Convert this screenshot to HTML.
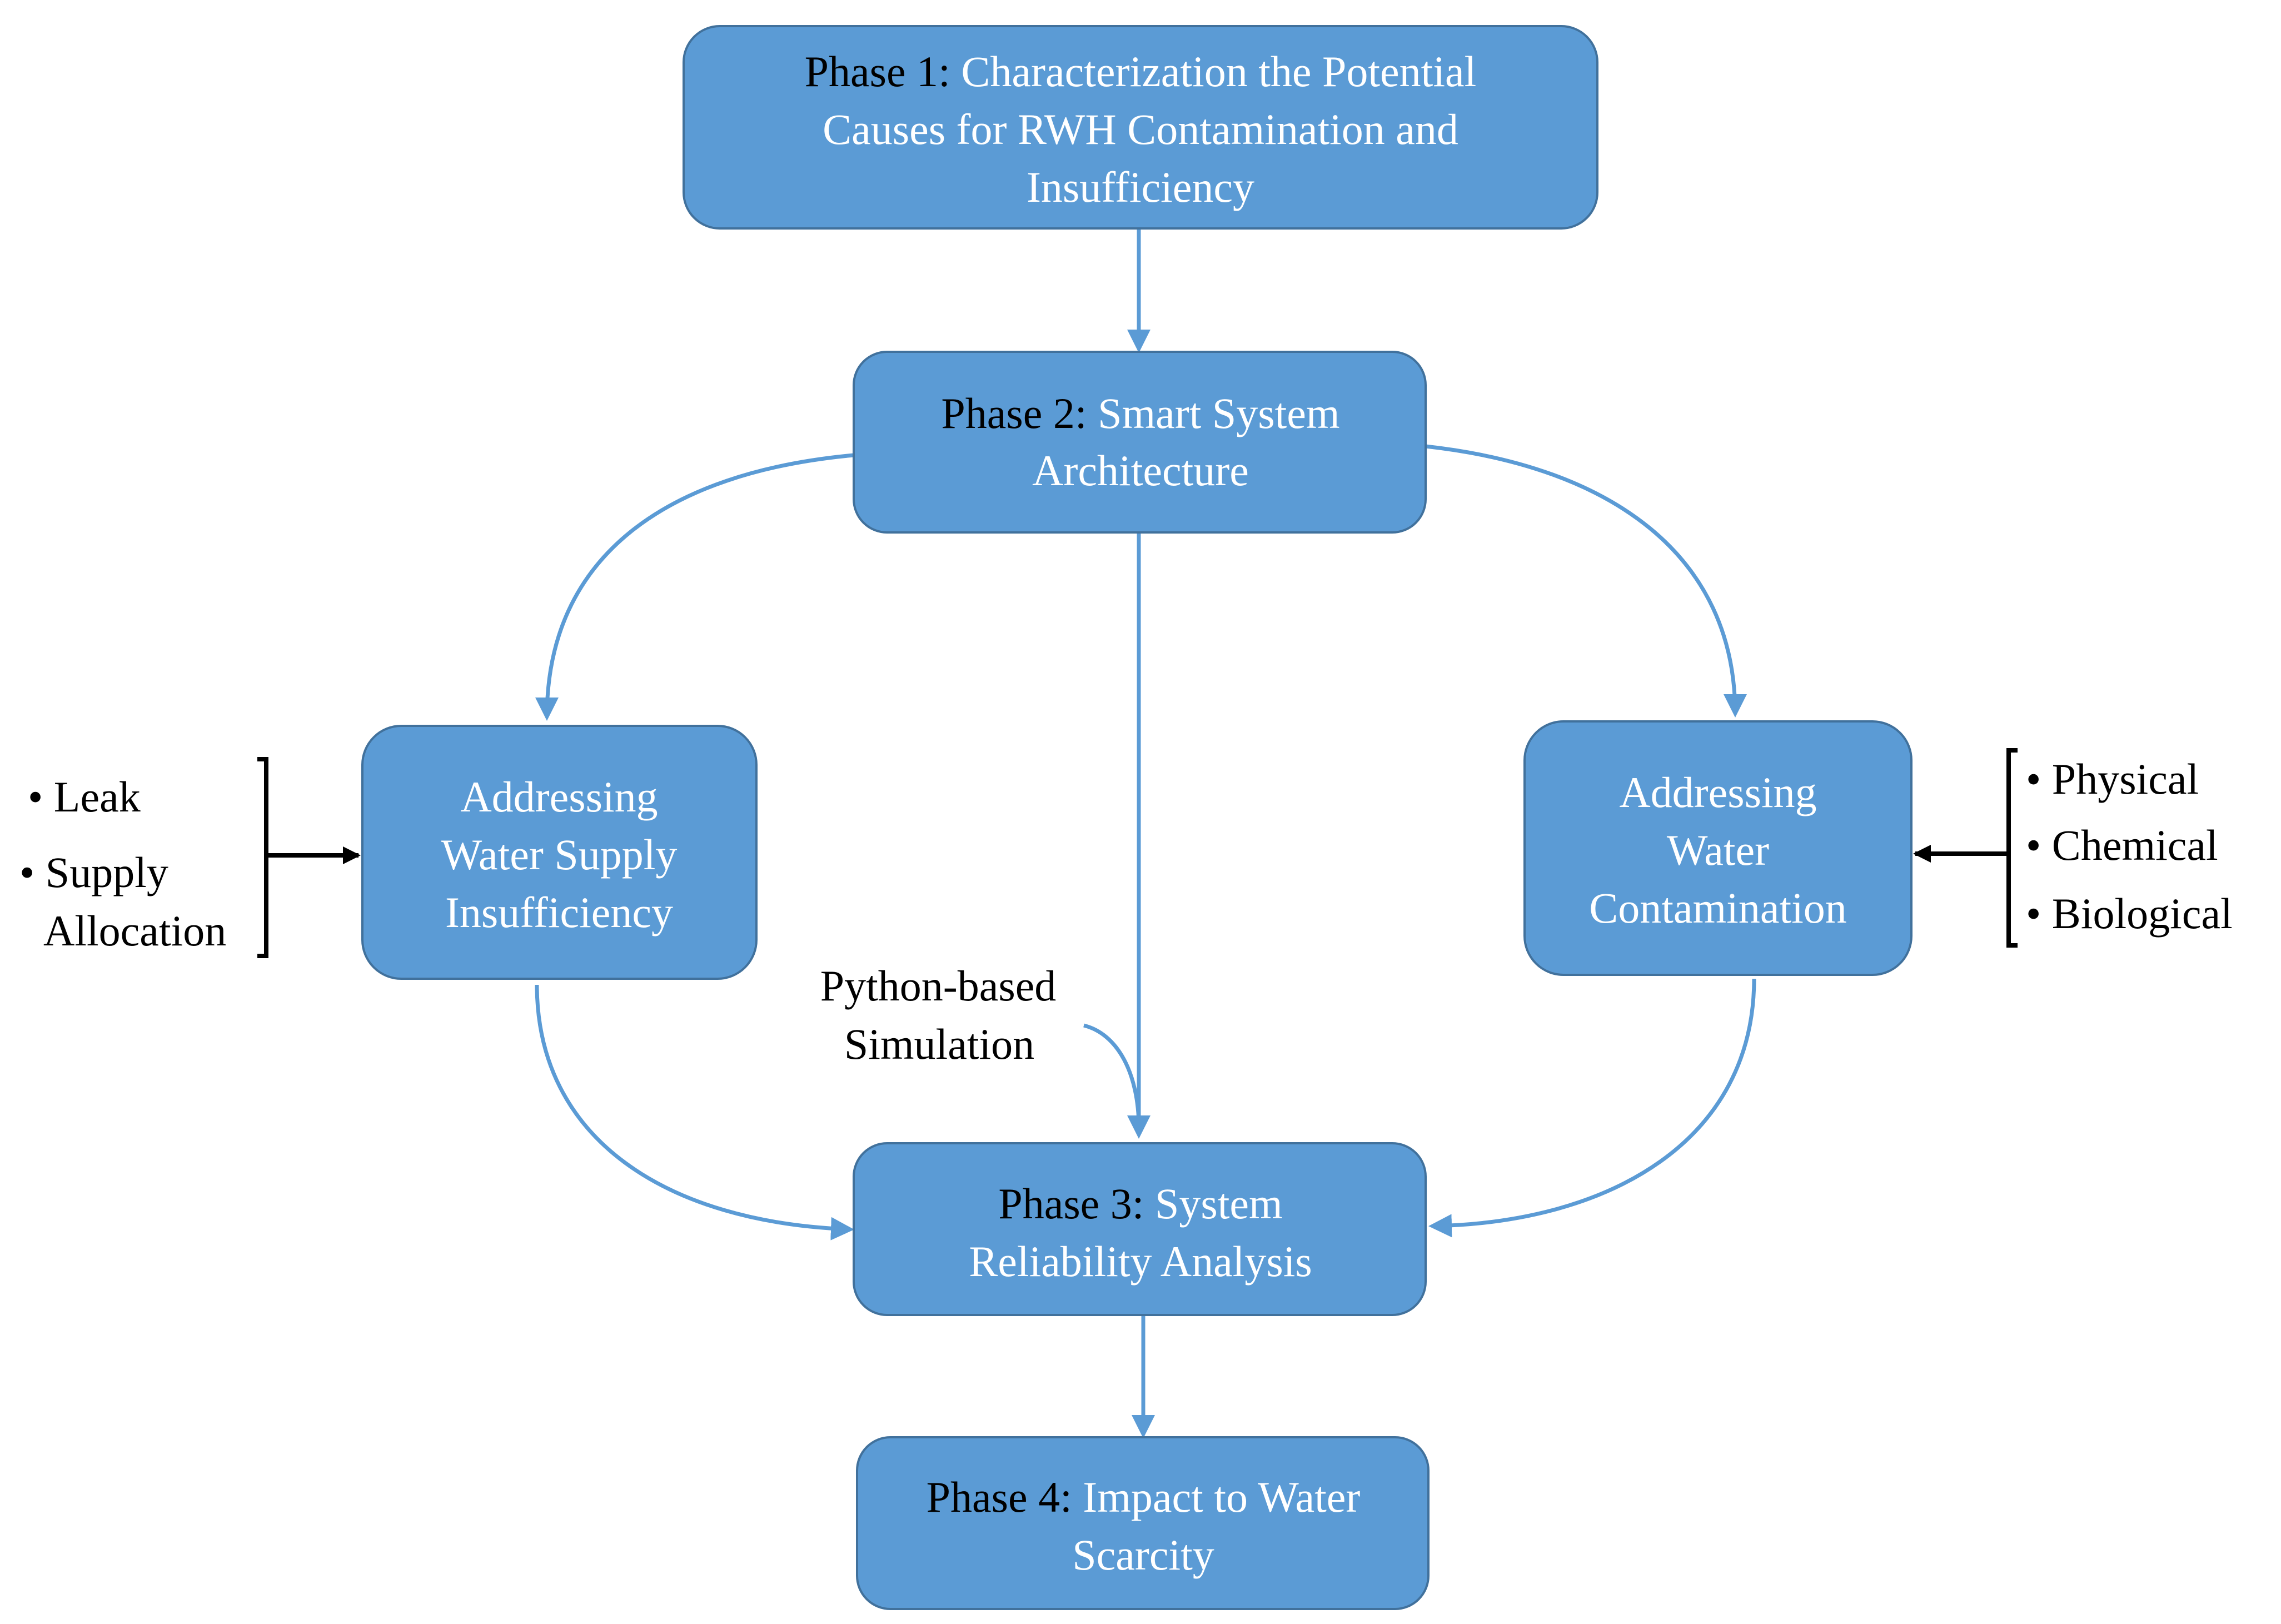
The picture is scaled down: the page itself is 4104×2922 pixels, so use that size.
<!DOCTYPE html>
<html><head><meta charset="utf-8"><style>
html,body{margin:0;padding:0;background:#fff;}
svg{display:block;}
text{font-family:"Liberation Serif",serif;}
</style></head><body>
<svg width="4104" height="2922" viewBox="0 0 4104 2922" xmlns="http://www.w3.org/2000/svg">
<defs>
<marker id="ab" markerWidth="6" markerHeight="6" refX="5" refY="3" orient="auto" markerUnits="strokeWidth"><path d="M0,0 L6,3 L0,6 z" fill="#5b9bd5"/></marker>
<marker id="ak" markerWidth="4" markerHeight="4" refX="3.5" refY="2" orient="auto" markerUnits="strokeWidth"><path d="M0,0 L4,2 L0,4 z" fill="#000"/></marker>
</defs>
<g fill="none" stroke="#5b9bd5" stroke-width="7">
<path d="M2049,411 L2049,628" marker-end="url(#ab)"/>
<path d="M1536,819 C1200,850 984,1000 984,1290" marker-end="url(#ab)"/>
<path d="M2565,803 C2900,840 3122,1000 3122,1284" marker-end="url(#ab)"/>
<path d="M2049,958 L2049,2042" marker-end="url(#ab)"/>
<path d="M1950,1845 C2010,1860 2049,1930 2049,2030"/>
<path d="M966,1772 C966,2050 1200,2200 1530,2212" marker-end="url(#ab)"/>
<path d="M3156,1761 C3156,2050 2900,2200 2577,2206" marker-end="url(#ab)"/>
<path d="M2057,2366 L2057,2581" marker-end="url(#ab)"/>
</g>
<g fill="#5b9bd5" stroke="#41719c" stroke-width="4">
<rect x="1230" y="47" width="1644" height="364" rx="65"/>
<rect x="1536" y="633" width="1029" height="325" rx="60"/>
<rect x="652" y="1306" width="709" height="455" rx="70"/>
<rect x="2743" y="1298" width="696" height="456" rx="70"/>
<rect x="1536" y="2057" width="1029" height="309" rx="60"/>
<rect x="1542" y="2586" width="1028" height="309" rx="60"/>
</g>
<g font-size="78" text-anchor="middle" fill="#fff">
<text x="2052" y="155"><tspan fill="#000">Phase 1:</tspan> Characterization the Potential</text>
<text x="2052" y="259">Causes for RWH Contamination and</text>
<text x="2052" y="363">Insufficiency</text>
<text x="2052" y="770"><tspan fill="#000">Phase 2:</tspan> Smart System</text>
<text x="2052" y="873">Architecture</text>
<text x="1006" y="1460">Addressing</text>
<text x="1006" y="1564">Water Supply</text>
<text x="1006" y="1668">Insufficiency</text>
<text x="3091" y="1452">Addressing</text>
<text x="3091" y="1556">Water</text>
<text x="3091" y="1660">Contamination</text>
<text x="2052" y="2192"><tspan fill="#000">Phase 3:</tspan> System</text>
<text x="2052" y="2296">Reliability Analysis</text>
<text x="2057" y="2720"><tspan fill="#000">Phase 4:</tspan> Impact to Water</text>
<text x="2057" y="2824">Scarcity</text>
</g>
<g font-size="78" fill="#000">
<text x="50" y="1460">• Leak</text>
<text x="35" y="1596">• Supply</text>
<text x="78" y="1701">Allocation</text>
<text x="3645" y="1428">• Physical</text>
<text x="3645" y="1547">• Chemical</text>
<text x="3645" y="1670">• Biological</text>
<text x="1688" y="1800" text-anchor="middle">Python-based</text>
<text x="1690" y="1905" text-anchor="middle">Simulation</text>
</g>
<g fill="none" stroke="#000" stroke-width="8">
<path d="M463,1366 L479,1366 L479,1720 L463,1720"/>
<path d="M479,1539 L645,1539" marker-end="url(#ak)"/>
<path d="M3630,1350 L3614,1350 L3614,1701 L3630,1701"/>
<path d="M3614,1536 L3446,1536" marker-end="url(#ak)"/>
</g>
</svg>
</body></html>
